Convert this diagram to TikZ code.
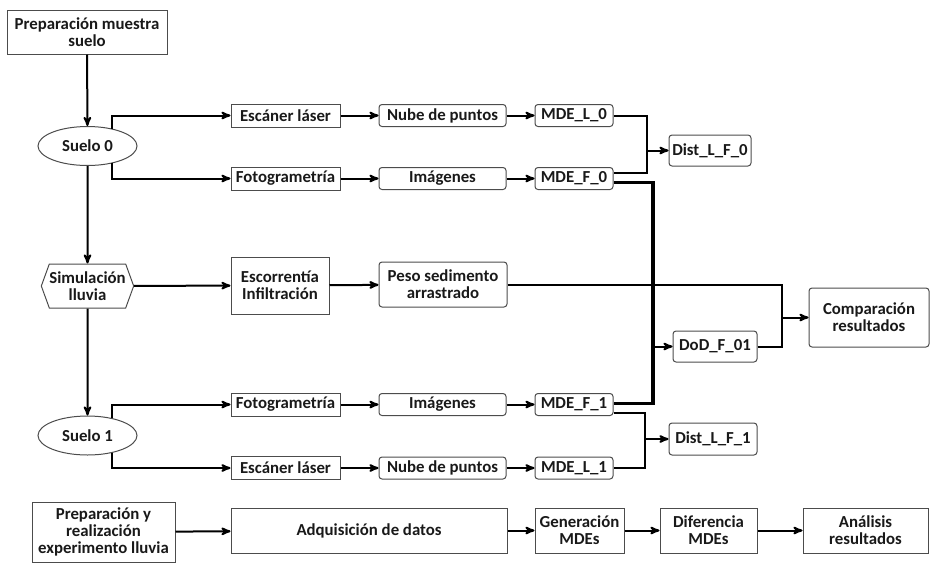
\documentclass[tikz,border=0pt]{standalone}
\usepackage{fontspec}
\setmainfont{Carlito}
\usetikzlibrary{arrows}
\usetikzlibrary{calc}
\usetikzlibrary{shapes.geometric}
\usetikzlibrary{shapes.symbols}

\begin{document}
\begin{tikzpicture}[x=1pt, y=-1pt, >=stealth',
    every node/.style={font=\fontsize{16.8}{17}\selectfont\bfseries, text=black!90, align=center, inner sep=1pt},
    caja/.style={draw=black!70, line width=1pt, rectangle},
    cajar/.style={caja, rounded corners=3pt},
    metodo/.style={caja, minimum width=109, minimum height=23},
    dato/.style={cajar, minimum width=127, minimum height=22},
    mde/.style={cajar, minimum width=78, minimum height=22},
    suelo/.style={draw=black!70, line width=1pt, ellipse, minimum width=99, minimum height=39},
    etapa/.style={caja, minimum height=45},
    flecha/.style={->, line width=2pt},
    linea/.style={line width=2pt},
    gruesa/.style={line width=3.2pt}]
    \useasboundingbox (0,0) rectangle (930,563);
    % columna izquierda
    \node[caja, minimum width=160, minimum height=44] (prep) at (87,32) {Preparación muestra\\suelo};
    \node[suelo] (s0) at (87.5,146) {Suelo 0};
    \node[draw=black!70, line width=1pt, signal, signal to=east and west, signal pointer angle=140,
          minimum width=89, minimum height=44, inner sep=0pt] (sim) at (87.5,286) {Simulación\\lluvia};
    \node[suelo] (s1) at (87.5,435.5) {Suelo 1};
    \draw[flecha] (prep) -- (s0);
    \draw[flecha] (s0) -- (sim);
    \draw[flecha] (sim) -- (s1);
    % suelo 0
    \node[metodo] (esc0) at (285.5,115.5) {Escáner láser};
    \node[metodo] (foto0) at (285.5,178.5) {Fotogrametría};
    \node[dato] (nube0) at (442.5,115.5) {Nube de puntos};
    \node[dato] (img0) at (442.5,178.5) {Imágenes};
    \node[mde] (mdel0) at (574,115.5) {MDE\_L\_0};
    \node[mde] (mdef0) at (574,178.5) {MDE\_F\_0};
    \node[cajar, minimum width=82, minimum height=31] (dist0) at (710,150.5) {Dist\_L\_F\_0};
    \draw[flecha] (s0.35) |- (esc0);
    \draw[flecha] (s0.-35) |- (foto0);
    \draw[flecha] (esc0) -- (nube0);
    \draw[flecha] (nube0) -- (mdel0);
    \draw[flecha] (foto0) -- (img0);
    \draw[flecha] (img0) -- (mdef0);
    \coordinate (j0) at (647,150.5);
    \draw[linea] (mdel0.east) -| (j0) |- ($(mdef0.east)+(0,-6)$);
    \draw[flecha] (j0) -- (dist0);
    % lluvia
    \node[caja, minimum width=98, minimum height=57] (escorr) at (280,285.5) {Escorrentía\\Infiltración};
    \node[cajar, minimum width=128, minimum height=45] (peso) at (443,284.5) {Peso sedimento\\arrastrado};
    \node[cajar, minimum width=84, minimum height=31] (dod) at (715,346.5) {DoD\_F\_01};
    \node[cajar, minimum width=120, minimum height=59] (comp) at (869,317.5) {Comparación\\resultados};
    \draw[flecha] (sim) -- (escorr);
    \draw[flecha] (escorr) -- (peso);
    \coordinate (j3) at (782,317.5);
    \draw[linea] (peso.east) -| (j3);
    \draw[linea] (dod) -| (j3);
    \draw[flecha] (j3) -- (comp);
    % suelo 1
    \node[metodo] (foto1) at (285.5,404.5) {Fotogrametría};
    \node[metodo] (esc1) at (285.5,468) {Escáner láser};
    \node[dato] (img1) at (442.5,404.5) {Imágenes};
    \node[dato] (nube1) at (442.5,468) {Nube de puntos};
    \node[mde] (mdef1) at (574,404.5) {MDE\_F\_1};
    \node[mde] (mdel1) at (574,468) {MDE\_L\_1};
    \node[cajar, minimum width=88, minimum height=32] (dist1) at (713,439) {Dist\_L\_F\_1};
    \draw[flecha] (s1.35) |- (foto1);
    \draw[flecha] (s1.-35) |- (esc1);
    \draw[flecha] (foto1) -- (img1);
    \draw[flecha] (img1) -- (mdef1);
    \draw[flecha] (esc1) -- (nube1);
    \draw[flecha] (nube1) -- (mdel1);
    \coordinate (j1) at (645,439);
    \draw[linea] ($(mdef1.east)+(0,8)$) -| (j1) |- (mdel1.east);
    \draw[flecha] (j1) -- (dist1);
    % diferencia F0 - F1
    \coordinate (j2) at (653,346.5);
    \draw[gruesa] ($(mdef0.east)+(0,4)$) -| (j2) |- ($(mdef1.east)+(0,-1)$);
    \draw[flecha] (j2) -- (dod);
    % etapas
    \node[caja, minimum width=143, minimum height=60] (e1) at (103.5,532) {Preparación y\\realización\\experimento lluvia};
    \node[etapa, minimum width=276] (e2) at (369,530.5) {Adquisición de datos};
    \node[etapa, minimum width=89] (e3) at (579.5,530.5) {Generación\\MDEs};
    \node[etapa, minimum width=97] (e4) at (708.5,530.5) {Diferencia\\MDEs};
    \node[etapa, minimum width=125] (e5) at (865.5,530.5) {Análisis\\resultados};
    \draw[flecha] (e1) -- (e2);
    \draw[flecha] (e2) -- (e3);
    \draw[flecha] (e3) -- (e4);
    \draw[flecha] (e4) -- (e5);
\end{tikzpicture}
\end{document}
